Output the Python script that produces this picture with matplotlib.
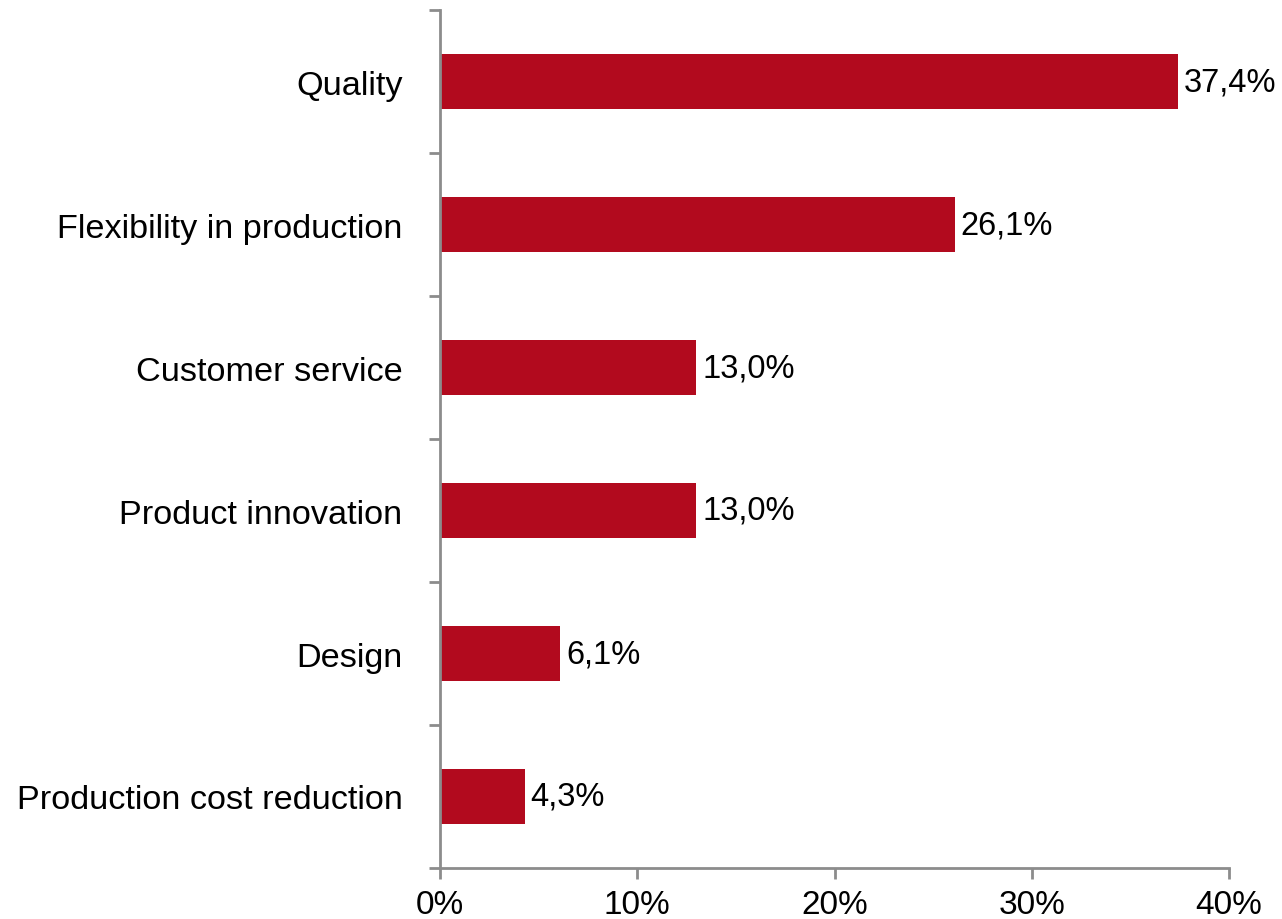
import matplotlib
matplotlib.use("Agg")
import matplotlib.pyplot as plt
from matplotlib.ticker import FixedLocator, PercentFormatter

categories = ["Quality", "Flexibility in production", "Customer service",
              "Product innovation", "Design", "Production cost reduction"]
values = [37.4, 26.1, 13.0, 13.0, 6.1, 4.3]
xticks = [0, 10, 20, 30, 40]

plt.rcParams["font.family"] = ["Liberation Sans", "DejaVu Sans"]

fig = plt.figure(figsize=(12.82, 9.2), dpi=100)
ax = fig.add_axes([440 / 1282, 51 / 920, 789 / 1282, 858 / 920])

n = len(categories)
pos = list(range(n))[::-1]
ax.barh(pos, values, height=0.39, color="#B20A1E", zorder=2)

for p, v in zip(pos, values):
    ax.text(v + 0.3, p, f"{v:.1f}".replace(".", ",") + "%", va="center",
            ha="left", fontsize=23.5, color="black")

ax.set_xlim(0, 40)
ax.set_ylim(-0.5, n - 0.5)
ax.set_xticks(xticks)
ax.xaxis.set_major_formatter(PercentFormatter(decimals=0))
ax.set_yticks(pos)
ax.set_yticklabels(categories)
ax.yaxis.set_minor_locator(FixedLocator([i - 0.5 for i in range(n + 1)]))

for s in ["top", "right"]:
    ax.spines[s].set_visible(False)
for s in ["left", "bottom"]:
    ax.spines[s].set_color("#8C8C8C")
    ax.spines[s].set_linewidth(2)

ax.tick_params(axis="y", which="major", length=0, pad=27, labelsize=24.7)
ax.tick_params(axis="y", which="minor", length=8, width=2, color="#8C8C8C", direction="out")
ax.tick_params(axis="x", which="major", length=8, width=2, color="#8C8C8C",
               direction="out", pad=7, labelsize=24)

fig.savefig("out.png", dpi=100)
